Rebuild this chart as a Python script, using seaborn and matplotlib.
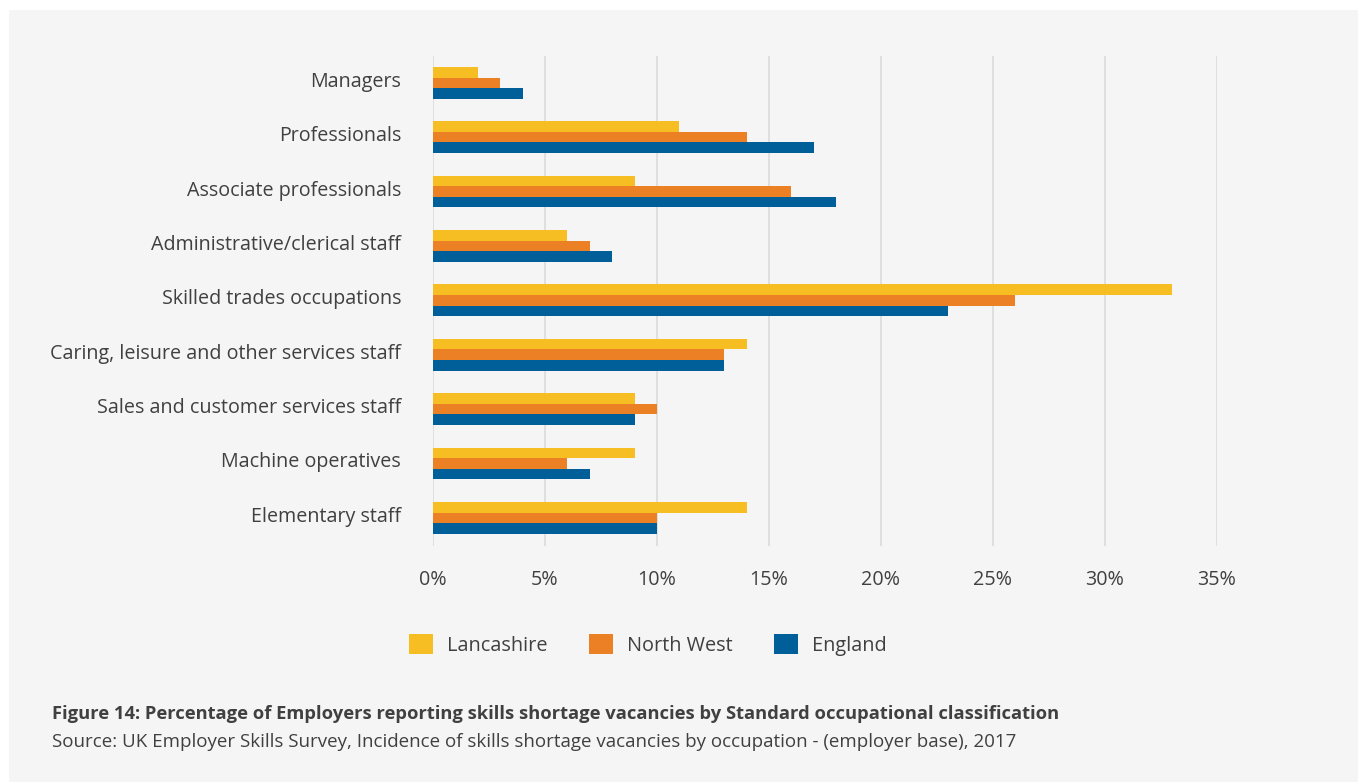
import matplotlib
matplotlib.use("Agg")
import matplotlib.pyplot as plt
from matplotlib.patches import Rectangle, Patch
from matplotlib.transforms import ScaledTranslation
import pandas as pd
import seaborn as sns

occupations = [
    "Managers",
    "Professionals",
    "Associate professionals",
    "Administrative/clerical staff",
    "Skilled trades occupations",
    "Caring, leisure and other services staff",
    "Sales and customer services staff",
    "Machine operatives",
    "Elementary staff",
]
lancashire = [2, 11, 9, 6, 33, 14, 9, 9, 14]
north_west = [3, 14, 16, 7, 26, 13, 10, 6, 10]
england = [4, 17, 18, 8, 23, 13, 9, 7, 10]
areas = ["Lancashire", "North West", "England"]
colors = ["#F6BE22", "#EC8024", "#005F98"]
x_ticks = [0, 5, 10, 15, 20, 25, 30, 35]

title = "Figure 14: Percentage of Employers reporting skills shortage vacancies by Standard occupational classification"
source = "Source: UK Employer Skills Survey, Incidence of skills shortage vacancies by occupation - (employer base), 2017"

df = pd.DataFrame({
    "occupation": occupations * 3,
    "area": [a for a in areas for _ in occupations],
    "pct": lancashire + north_west + england,
})

sns.set_theme(style="white")
plt.rcParams["font.family"] = ["Open Sans", "DejaVu Sans"]
text_col = "#404040"

fig = plt.figure(figsize=(13.58, 7.82), dpi=100, facecolor="white")
# light grey card behind the whole chart
fig.patches.append(Rectangle((9 / 1358, 0), 1349 / 1358, 772 / 782,
                             transform=fig.transFigure, facecolor="#f5f5f5",
                             edgecolor="none", zorder=-10))

ax = fig.add_axes([433 / 1358, 1 - 546 / 782, 784 / 1358, 490 / 782])
ax.set_facecolor("none")
sns.barplot(data=df, y="occupation", x="pct", hue="area", order=occupations,
            hue_order=areas, palette=colors, orient="h", width=0.583,
            saturation=1, linewidth=0, edgecolor="none",
            ax=ax, legend=False, zorder=3)

ax.set_xlim(0, 35)
ax.set_ylim(8.518, -0.493)
ax.set_xticks(x_ticks)
ax.set_xticklabels([f"{t}%" for t in x_ticks])
for t in x_ticks:
    ax.axvline(t, color="#d9d9d9", lw=1.1, zorder=1)
for s in ax.spines.values():
    s.set_visible(False)
ax.tick_params(axis="x", length=0, pad=17, labelsize=14.2, labelcolor=text_col)
ax.tick_params(axis="y", length=0, pad=23, labelsize=14.2, labelcolor=text_col)
ax.set_xlabel("")
ax.set_ylabel("")

# category labels sit a touch above the centre of their bar group
lift = ScaledTranslation(0, 3.5 / 100, fig.dpi_scale_trans)
for lbl in ax.get_yticklabels():
    lbl.set_transform(lbl.get_transform() + lift)

handles = [Patch(facecolor=c, edgecolor="none") for c in colors]
fig.legend(handles, areas, loc="center", bbox_to_anchor=(648 / 1358, 1 - 645 / 782),
           ncol=3, frameon=False, fontsize=14.3, labelcolor=text_col,
           handlelength=1.18, handleheight=1.18, handletextpad=0.72, columnspacing=2.1)

fig.text(52 / 1358, 1 - 714 / 782, title, fontsize=13.2, fontweight="bold",
         color=text_col, va="center", ha="left")
fig.text(52 / 1358, 1 - 742 / 782, source, fontsize=13.5,
         color=text_col, va="center", ha="left")

fig.savefig("out.png", dpi=100, facecolor="white")
